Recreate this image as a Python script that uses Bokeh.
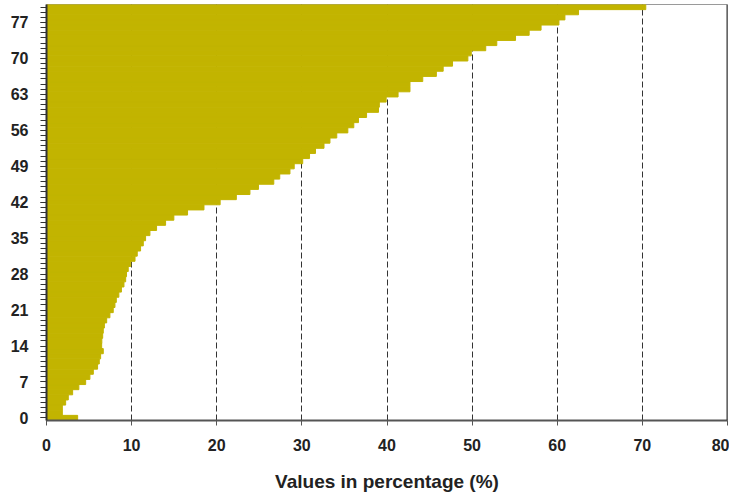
from bokeh.plotting import figure
from bokeh.models import FixedTicker, Range1d, Span, ColumnDataSource
from bokeh.embed import file_html
from bokeh.resources import INLINE

# Categories (0..80) and their values in percentage
categories = list(range(0, 81))
values = [
    3.66, 1.86, 1.86, 2.25, 2.56, 3.07, 3.8, 4.6, 5.1, 5.5,
    6.0, 6.2, 6.36, 6.67, 6.48, 6.5, 6.6, 6.67, 6.8, 7.07,
    7.45, 7.84, 8.04, 8.2, 8.5, 8.8, 9.1, 9.3, 9.4, 9.6,
    9.9, 10.4, 10.66, 11.05, 11.37, 11.64, 12.15, 12.93, 13.99, 14.96,
    16.57, 18.5, 20.4, 22.3, 23.9, 24.9, 26.7, 27.4, 28.6, 29.1,
    30.1, 30.9, 31.6, 32.6, 33.3, 34.1, 35.4, 36.1, 36.65, 37.6,
    39.0, 39.1, 39.9, 41.3, 42.7, 42.7, 44.2, 45.8, 46.6, 47.7,
    49.5, 49.9, 51.6, 52.9, 55.1, 56.7, 58.1, 60.2, 60.9, 62.5,
    70.4,
]
y_tick_values = list(range(0, 78, 7))
x_tick_values = list(range(0, 81, 10))
x_title = "Values in percentage (%)"

BAR = "#C2B400"
TXT = "#222222"
FONT = "Liberation Sans"

src = ColumnDataSource(dict(cat=categories, val=values))

p = figure(
    width=729, height=494,
    x_range=Range1d(0, 80), y_range=Range1d(-0.5, 80.5),
    output_backend="svg", toolbar_location=None,
    min_border_left=46, min_border_right=2, min_border_top=4, min_border_bottom=70,
)
p.hbar(y="cat", left=0, right="val", height=1.0, source=src,
       fill_color=BAR, line_color=BAR, line_width=1)

p.outline_line_color = "#9a9a9a"
p.outline_line_width = 1
p.add_layout(Span(location=80, dimension="height", line_color="#333333", line_width=2))

# grids
p.ygrid.grid_line_color = None
p.xgrid.ticker = FixedTicker(ticks=x_tick_values)
p.xgrid.grid_line_color = "#333333"
p.xgrid.grid_line_dash = "6 3"
p.xgrid.grid_line_width = 1

# x axis
xa = p.xaxis[0]
xa.ticker = FixedTicker(ticks=x_tick_values)
xa.axis_line_color = "#555555"
xa.axis_line_width = 2
xa.major_tick_out = 5
xa.major_tick_in = 0
xa.major_tick_line_color = "#555555"
xa.minor_tick_line_color = None
xa.major_label_standoff = 13
xa.major_label_text_font = FONT
xa.major_label_text_font_style = "bold"
xa.major_label_text_font_size = "16px"
xa.major_label_text_color = TXT
xa.axis_label = x_title
xa.axis_label_text_font = FONT
xa.axis_label_text_font_style = "bold"
xa.axis_label_text_font_size = "19px"
xa.axis_label_text_color = TXT
xa.axis_label_standoff = 17

# y axis
ya = p.yaxis[0]
ya.ticker = FixedTicker(ticks=y_tick_values, minor_ticks=categories)
ya.axis_line_color = "#333333"
ya.axis_line_width = 2
ya.major_tick_out = 6
ya.major_tick_in = 0
ya.minor_tick_out = 6
ya.minor_tick_in = 0
ya.major_tick_line_color = "#333333"
ya.minor_tick_line_color = "#333333"
ya.major_label_standoff = 12
ya.major_label_text_font = FONT
ya.major_label_text_font_style = "bold"
ya.major_label_text_font_size = "16px"
ya.major_label_text_color = TXT

open("out.html", "w").write(file_html(p, INLINE))
